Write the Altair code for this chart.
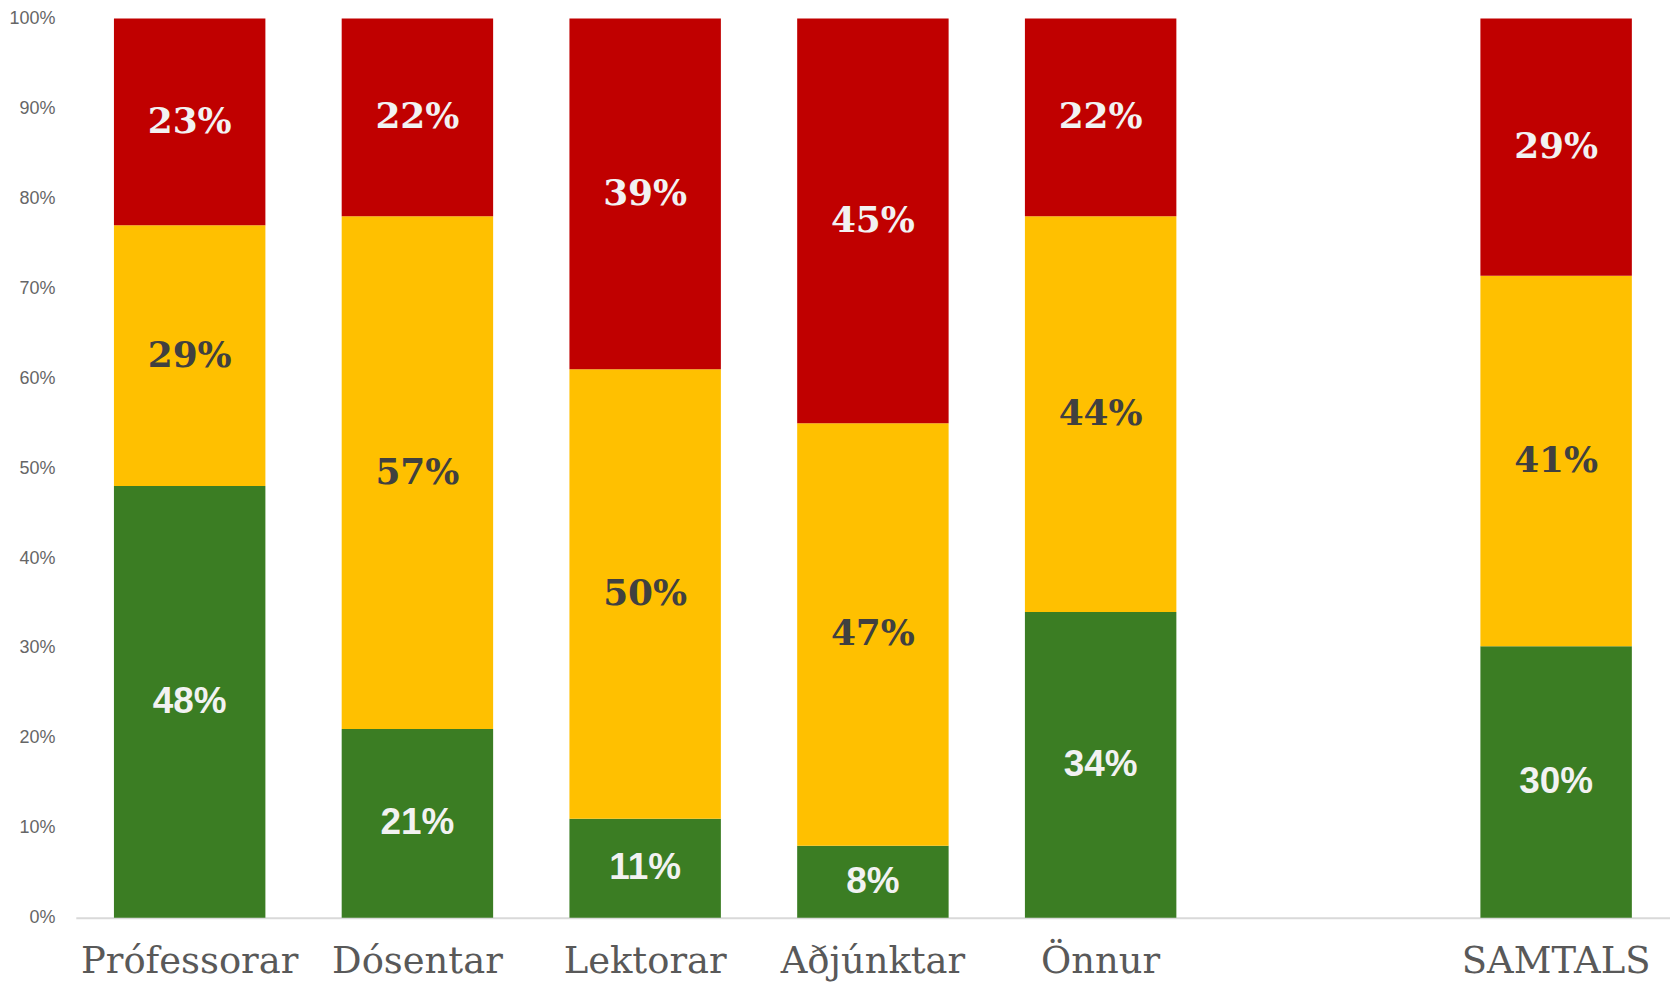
import altair as alt
import pandas as pd

categories = ["Prófessorar", "Dósentar", "Lektorar", "Aðjúnktar", "Önnur", "SAMTALS"]
axis_order = ["Prófessorar", "Dósentar", "Lektorar", "Aðjúnktar", "Önnur", " ", "SAMTALS"]
series = ["grænt", "gult", "rautt"]
colors = ["#3B7D23", "#FFC000", "#C00000"]
green = [48, 21, 11, 8, 34, 30.2]
yellow = [29, 57, 50, 47, 44, 41.2]
red = [23, 22, 39, 45, 22, 28.6]
y_ticks = [0, 10, 20, 30, 40, 50, 60, 70, 80, 90, 100]

rows = []
for i, cat in enumerate(categories):
    start = 0.0
    for s, vals in zip(series, [green, yellow, red]):
        v = vals[i]
        rows.append({
            "cat": cat, "series": s, "value": v,
            "start": start, "end": start + v, "mid": start + v / 2,
            "label": f"{int(v + 0.5)}%",
        })
        start += v
df = pd.DataFrame(rows)

x_enc = alt.X(
    "cat:N",
    scale=alt.Scale(domain=axis_order, paddingInner=0.335, paddingOuter=0.1675),
    sort=axis_order,
    axis=alt.Axis(
        title=None, labelAngle=0, ticks=False, domainColor="#D9D9D9", domainWidth=2,
        labelFont="DejaVu Serif", labelFontSize=37, labelColor="#595959",
        labelPadding=26, labelBaseline="top", labelLimit=0, labelOverlap=False,
    ),
)
y_scale = alt.Scale(domain=[0, 100])

base = alt.Chart(df)
bars = base.mark_bar().encode(
    x=x_enc,
    y=alt.Y(
        "start:Q", scale=y_scale,
        axis=alt.Axis(
            title=None, values=y_ticks, labelExpr="datum.value + '%'",
            grid=False, ticks=False, domain=False,
            labelFont="Liberation Sans", labelFontSize=18, labelColor="#666666",
            labelPadding=21,
        ),
    ),
    y2="end:Q",
    color=alt.Color("series:N", scale=alt.Scale(domain=series, range=colors), legend=None),
)

def text_layer(sname, font, color, size):
    return base.transform_filter(alt.datum.series == sname).mark_text(
        font=font, fontWeight="bold", fontSize=size, color=color, baseline="middle"
    ).encode(x=alt.X("cat:N", sort=axis_order), y=alt.Y("mid:Q", scale=y_scale), text="label:N")

t_red = text_layer("rautt", "DejaVu Serif", "#F2F2F2", 36)
t_yel = text_layer("gult", "DejaVu Serif", "#404040", 36)
t_grn = text_layer("grænt", "Liberation Sans", "#F2F2F2", 37)

chart = alt.layer(bars, t_red, t_yel, t_grn).properties(
    width=1599, height=902,
    padding={"left": 0, "top": 0, "right": 0, "bottom": 8},
).configure_view(stroke=None)

chart.save("out.html", embed_options={"renderer": "svg", "actions": False})
